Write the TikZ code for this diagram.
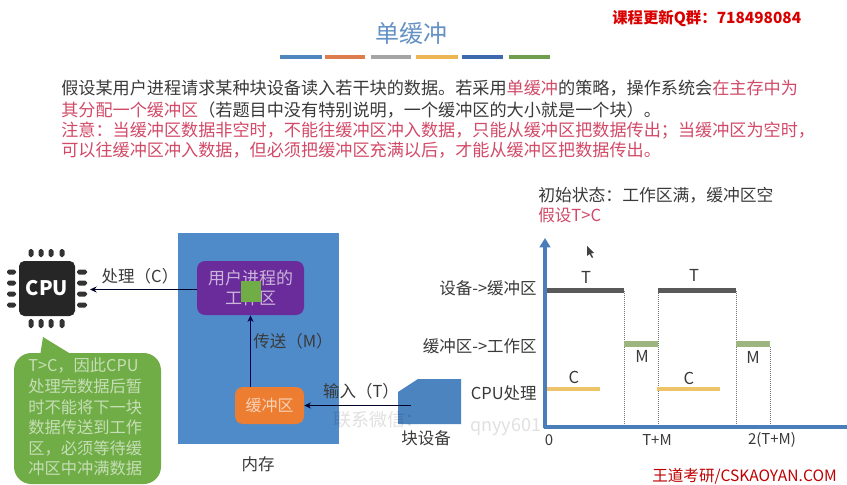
\documentclass[tikz,border=0pt]{standalone}
\usepackage{fontspec}
\setmainfont{Noto Sans CJK SC}
\usetikzlibrary{arrows.meta,calc}
\newcommand{\pxf}[1]{\fontsize{\the\dimexpr #1pt*3/4\relax}{\the\dimexpr #1pt*11/10\relax}\selectfont}
\newcommand{\zcm}{^^^^ff0c}
\newcommand{\zcl}{^^^^ff1a}
\newcommand{\zsm}{^^^^ff1b}
\newcommand{\zlp}{^^^^ff08}
\newcommand{\zrp}{^^^^ff09}
\definecolor{memblue}{HTML}{4F8BC9}
\definecolor{axisblue}{HTML}{4A7EBB}
\definecolor{txt}{HTML}{3A3A3A}
\definecolor{redtxt}{HTML}{D24A68}
\definecolor{pur}{HTML}{6A2C9A}
\definecolor{org}{HTML}{ED7D31}
\definecolor{grn}{HTML}{70AD47}
\definecolor{barg}{HTML}{9DB67E}
\definecolor{bary}{HTML}{EDC46A}
\tikzset{
 x=0.75pt,y=-0.75pt,
 lab/.style={inner sep=0pt,text=txt,font=\pxf{16.5}},
 body/.style={inner sep=0pt,anchor=west,text=txt,font=\fontsize{12.85}{15}\selectfont},
 box/.style={rounded corners=6pt,inner sep=0pt,align=center},
 arr/.style={draw=black!85!blue,line width=0.8pt,-{Stealth[length=5pt,width=4.5pt]}},
 pin/.style={fill=black!80,rounded corners=1.4pt},
 guide/.style={draw=black!55,line width=0.5pt,densely dotted},
 tickl/.style={inner sep=0pt,text=txt,font=\pxf{15}},
 barl/.style={inner sep=0pt,text=txt,font=\pxf{16.5}},
 wmark/.style={inner sep=0pt,anchor=west,text=black,text opacity=0.12,font=\pxf{18}},
}
\begin{document}
\begin{tikzpicture}
\useasboundingbox (0,0) rectangle (847,485);
\fill[white] (0,0) rectangle (847,485);
% header
\node[inner sep=0pt,text=axisblue!85,font=\pxf{24}] (title) at (411,33) {单缓冲};
\foreach \a/\b/\c in {280/322/4F86BD,325/365/DD7C4C,371/411/A5A5A5,416/458/EDB655,462/503/3F69AE,509/550/6F9E4F}{
  \definecolor{tmp}{HTML}{\c}
  \fill[tmp] (\a,55.5) rectangle (\b,59);
}
\node[inner sep=0pt,anchor=west,text=red!85!black,font=\pxf{15.4}\bfseries] (qq) at (612,18) {课程更新Q群\zcl{}718498084};
% body
\node[body] (l1) at (61,88) {假设某用户进程请求某种块设备读入若干块的数据。若采用\textcolor{redtxt}{单缓冲}的策略\zcm{}操作系统会\textcolor{redtxt}{在主存中为}};
\node[body] (l2) at (61,110) {\textcolor{redtxt}{其分配一个缓冲区}\zlp{}若题目中没有特别说明\zcm{}一个缓冲区的大小就是一个块\zrp{}。};
\node[body,text=redtxt] (l3) at (61,131) {注意\zcl{}当缓冲区数据非空时\zcm{}不能往缓冲区冲入数据\zcm{}只能从缓冲区把数据传出\zsm{}当缓冲区为空时\zcm};
\node[body,text=redtxt] (l4) at (61,150) {可以往缓冲区冲入数据\zcm{}但必须把缓冲区充满以后\zcm{}才能从缓冲区把数据传出。};
% memory
\node[fill=memblue,minimum width=120.75pt,minimum height=158.25pt,inner sep=0pt] (mem) at (258.5,338.5) {};
\node[lab] (memlab) at (258,464) {内存};
\node[box,fill=pur,minimum width=80.25pt,minimum height=40.5pt,text=pur!35!white,font=\fontsize{12.75}{15}\selectfont] (work) at (250.5,288) {用户进程的\\工作区};
\node[fill=grn,minimum width=15pt,minimum height=15.75pt,inner sep=0pt] (blockw) at (251,291.5) {};
\node[box,fill=org,minimum width=51.75pt,minimum height=27.75pt,text=org!35!white,font=\pxf{16}] (buf) at (269.5,405.5) {缓冲区};
% device
\fill[memblue!95!black] (398,392) -- (418,379) -- (461,379) -- (461,424) -- (398,424) -- cycle;
\coordinate (devport) at (411,404);
\node[lab] (devlab) at (426,438) {块设备};
% cpu
\node[fill=black!85,rounded corners=4pt,minimum width=42pt,minimum height=41.25pt,inner sep=0pt,text=white,font=\pxf{20}\bfseries] (cpu) at (47,288.5) {CPU};
\foreach \x in {31,41,51,62}{
  \fill[pin] (\x-2.5,249) rectangle (\x+2.5,257);
  \fill[pin] (\x-2.5,319) rectangle (\x+2.5,328);
}
\foreach \y in {272,283,294,305}{
  \fill[pin] (7,\y-2.5) rectangle (16,\y+2.5);
  \fill[pin] (77,\y-2.5) rectangle (87,\y+2.5);
}
\coordinate (cpuport) at (90,289.5);
% arrows
\draw[arr] (work.west |- cpuport) -- (cpuport);
\draw[arr,draw=blue!30!black] (buf.north -| work.south) -- (work.south);
\draw[arr] (devport |- buf.east) -- (buf.east);
\node[lab] (lc) at (140,276) {处理\zlp{}C\zrp};
\node[lab] (lm) at (293,341) {传送\zlp{}M\zrp};
\node[lab] (lt) at (361,391) {输入\zlp{}T\zrp};
% callout
\fill[grn,rounded corners=0pt] (40,356) -- (43,337) -- (74,356) -- cycle;
\fill[grn,rounded corners=13pt] (14,353) rectangle (161,484);
\node[inner sep=0pt,align=left,anchor=north west,text=grn!40!white,font=\fontsize{12.2}{15.4}\selectfont] (note) at (28,358) {T>C\zcm{}因此CPU\\处理完数据后暂\\时不能将下一块\\数据传送到工作\\区\zcm{}必须等待缓\\冲区中冲满数据};
% watermark
\node[wmark] (wm1) at (333,420) {联系微信\zcl};
\node[wmark] (wm2) at (470,427) {qnyy601};
% chart text
\node[body,font=\pxf{16.8}] (st) at (538,195) {初始状态\zcl{}工作区满\zcm{}缓冲区空};
\node[body,font=\pxf{16.6},text=redtxt] (as) at (538,215) {假设T>C};
% guides
\foreach \x/\t in {624/291,658/291,736/291,770/347}{
  \draw[guide] (\x,\t) -- (\x,427);
}
% axes
\draw[draw=axisblue,line width=3pt,-{Triangle[length=7pt,width=8pt]}] (545,428) -- (545,238);
\draw[draw=axisblue,line width=3pt] (543.5,427) -- (847,427);
% bars
\fill[black!65] (547,287.5) rectangle (624,292.5);
\fill[black!65] (658,287.5) rectangle (736,292.5);
\fill[barg] (624,341) rectangle (658,347);
\fill[barg] (736,341) rectangle (770,347);
\fill[bary] (547,387) rectangle (600,391);
\fill[bary] (657,387) rectangle (720,391);
\node[barl] (bt1) at (586,277) {T};
\node[barl] (bt2) at (694,275) {T};
\node[barl] (bm1) at (642,356) {M};
\node[barl] (bm2) at (753,357) {M};
\node[barl] (bc1) at (574,377) {C};
\node[barl] (bc2) at (689,378) {C};
\node[lab,anchor=east] (y1) at (537,288) {设备->缓冲区};
\node[lab,anchor=east] (y2) at (537,346) {缓冲区->工作区};
\node[lab,anchor=east] (y3) at (537,393) {CPU处理};
\node[tickl] (x0) at (549,440) {0};
\node[tickl] (x1) at (657,440) {T+M};
\node[tickl] (x2) at (772,440) {2(T+M)};
% cursor
\fill[black!75] (587,246) -- (587,256) -- (589.5,254) -- (592,258) -- (593,257) -- (591,253.5) -- (594,253) -- cycle;
% footer
\node[inner sep=0pt,anchor=west,text=red!75!black,font=\pxf{15.6}] (foot) at (652,476) {王道考研/CSKAOYAN.COM};
\end{tikzpicture}
\end{document}
